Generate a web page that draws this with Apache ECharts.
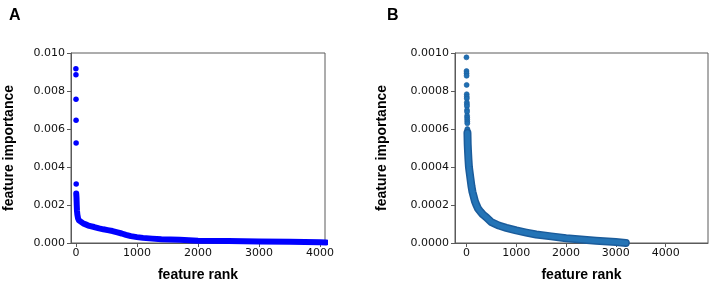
<!DOCTYPE html>
<html>
<head>
<meta charset="utf-8">
<script src="https://cdn.jsdelivr.net/npm/echarts@6/dist/echarts.min.js"></script>
<style>
  html, body { margin: 0; padding: 0; background: #fff; }
  #chart { width: 714px; height: 282px; }
</style>
</head>
<body>
<div id="chart"></div>
<script>
// 面板A：前几个离散的高值点
var rankHeadA = [0, 1, 2, 3, 4, 5];
var impHeadA = [0.00917, 0.00886, 0.00756, 0.00646, 0.00526, 0.00311];
// 面板A：密集的主带
var rankA = [6, 7, 8, 10, 12, 14, 16, 18, 20, 24, 28, 35, 50, 80, 120, 160, 220, 300, 380, 450, 520, 600, 680, 750, 820, 900, 1000, 1100, 1250, 1400, 1700, 2000, 2500, 3000, 3500, 4000, 4100];
var impA = [0.0026, 0.00255, 0.0025, 0.0024, 0.0022, 0.002, 0.0019, 0.0017, 0.0016, 0.0015, 0.0014, 0.0013, 0.00119, 0.0011, 0.00103, 0.00098, 0.0009, 0.00084, 0.00077, 0.00072, 0.00068, 0.00063, 0.00056, 0.0005, 0.00043, 0.00036, 0.00031, 0.00027, 0.00023, 0.0002, 0.00017, 0.00012, 0.0001, 0.00008, 0.00007, 0.00004, 0.00003];

// 面板B：前几个离散点
var rankHeadB = [0, 1, 2, 3, 4, 5, 6, 7, 8, 9, 10, 11, 12, 13, 14, 15, 16, 17, 18, 19];
var impHeadB = [0.000977, 0.000905, 0.000893, 0.00088, 0.000832, 0.000783, 0.00077, 0.00076, 0.00074, 0.00073, 0.00072, 0.0007, 0.00069, 0.00067, 0.00066, 0.00065, 0.00064, 0.00063, 0.0006, 0.000595];
// 面板B：主带
var rankB = [20, 25, 30, 40, 50, 65, 80, 100, 120, 140, 170, 200, 235, 280, 330, 400, 500, 650, 800, 1000, 1200, 1400, 1700, 2000, 2300, 2600, 3000, 3200];
var impB = [0.00058, 0.00052, 0.00049, 0.00044, 0.0004, 0.00037, 0.00034, 0.0003, 0.00027, 0.00025, 0.00022, 0.0002, 0.00018, 0.000165, 0.00015, 0.000135, 0.00011, 0.000092, 0.00008, 0.000066, 0.000055, 0.000045, 0.000035, 0.000025, 0.000018, 0.000012, 0.000005, 0.0000005];

// 刻度
var xTicks = [0, 1000, 2000, 3000, 4000];

function pairs(xs, ys) {
  var out = [];
  for (var i = 0; i < xs.length; i++) out.push([xs[i], ys[i]]);
  return out;
}

var frameColor = '#5a5a5a';
var tickFont = { color: '#111', fontSize: 11, fontFamily: 'DejaVu Sans' };
var nameFont = { color: '#000', fontSize: 14, fontWeight: 'bold', fontFamily: 'Liberation Sans' };

function xAxisCfg(idx, min, max) {
  return {
    type: 'value', gridIndex: idx, min: min, max: max,
    name: 'feature rank', nameLocation: 'middle', nameGap: 25, nameTextStyle: nameFont,
    axisLine: { show: true, onZero: false, lineStyle: { color: frameColor, width: 1 } },
    axisTick: { show: true, length: 4, customValues: xTicks, lineStyle: { color: frameColor } },
    axisLabel: Object.assign({ margin: 5, customValues: xTicks, formatter: function (v) { return String(v); } }, tickFont),
    splitLine: { show: false }
  };
}

function yAxisCfg(idx, max, step, digits, gap) {
  return {
    type: 'value', gridIndex: idx, min: 0, max: max, interval: step,
    name: 'feature importance', nameLocation: 'middle', nameGap: gap, nameTextStyle: nameFont,
    axisLine: { show: true, onZero: false, lineStyle: { color: frameColor, width: 1 } },
    axisTick: { show: true, length: 4, lineStyle: { color: frameColor } },
    axisLabel: Object.assign({ margin: 6, formatter: function (v) { return v.toFixed(digits); } }, tickFont),
    splitLine: { show: false }
  };
}

var myChart = echarts.init(document.getElementById('chart'), null, { renderer: 'canvas' });
var option = {
  backgroundColor: '#fff',
  animation: false,
  title: [
    { text: 'A', left: 9, top: 8, padding: 0, textStyle: { fontSize: 16, fontWeight: 'bold', color: '#000', fontFamily: 'Liberation Sans' } },
    { text: 'B', left: 387, top: 8, padding: 0, textStyle: { fontSize: 16, fontWeight: 'bold', color: '#000', fontFamily: 'Liberation Sans' } }
  ],
  grid: [
    { left: 71, top: 53, width: 254, height: 190, outerBoundsMode: 'none', show: true, borderColor: frameColor, borderWidth: 1, backgroundColor: 'transparent' },
    { left: 455, top: 53, width: 253, height: 190, outerBoundsMode: 'none', show: true, borderColor: frameColor, borderWidth: 1, backgroundColor: 'transparent' }
  ],
  xAxis: [xAxisCfg(0, -80, 4080), xAxisCfg(1, -230, 4850)],
  yAxis: [yAxisCfg(0, 0.01, 0.002, 3, 55), yAxisCfg(1, 0.001, 0.0002, 4, 66)],
  series: [
    {
      type: 'line', xAxisIndex: 0, yAxisIndex: 0, data: pairs(rankA, impA),
      showSymbol: false, smooth: false, clip: true,
      lineStyle: { color: '#0000ff', width: 6, cap: 'round', join: 'round' }
    },
    {
      type: 'scatter', xAxisIndex: 0, yAxisIndex: 0, data: pairs(rankHeadA, impHeadA),
      symbolSize: 5.5, itemStyle: { color: '#0000ff', opacity: 1 }
    },
    {
      type: 'line', xAxisIndex: 1, yAxisIndex: 1, data: pairs(rankB, impB),
      showSymbol: false, clip: true,
      lineStyle: { color: '#1b5c9b', width: 8, cap: 'round', join: 'round' }
    },
    {
      type: 'line', xAxisIndex: 1, yAxisIndex: 1, data: pairs(rankB, impB),
      showSymbol: false, clip: true,
      lineStyle: { color: '#2474b6', width: 5, cap: 'round', join: 'round' }
    },
    {
      type: 'scatter', xAxisIndex: 1, yAxisIndex: 1, data: pairs(rankHeadB, impHeadB),
      symbolSize: 5, itemStyle: { color: '#1f70b4', borderColor: '#1b5c9b', borderWidth: 0.6, opacity: 1 }
    }
  ]
};
myChart.setOption(option);
window.onresize = myChart.resize;
</script>
</body>
</html>
